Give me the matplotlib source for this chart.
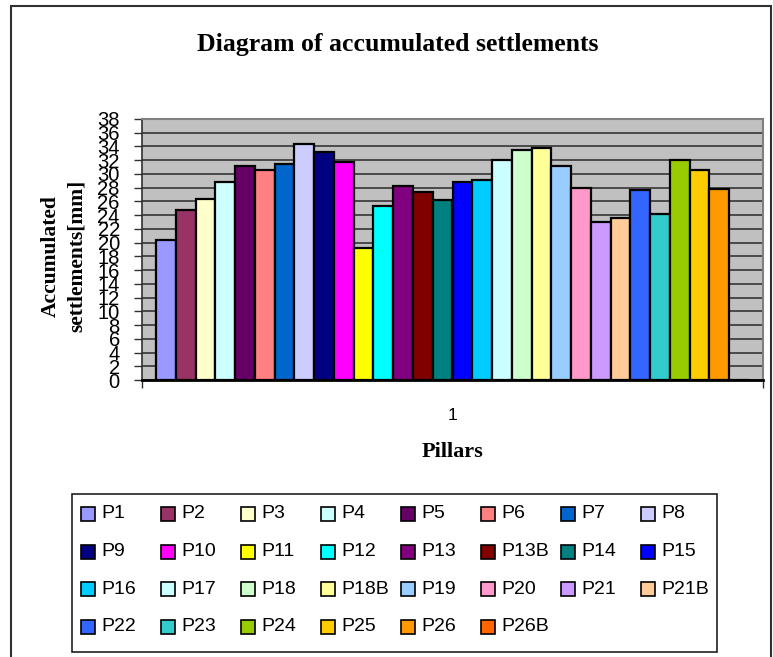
import matplotlib
matplotlib.use("Agg")
import matplotlib.pyplot as plt
from matplotlib.patches import Rectangle
import numpy as np


# data
pillars = ["P1", "P2", "P3", "P4", "P5", "P6", "P7", "P8",
           "P9", "P10", "P11", "P12", "P13", "P13B", "P14", "P15",
           "P16", "P17", "P18", "P18B", "P19", "P20", "P21", "P21B",
           "P22", "P23", "P24", "P25", "P26", "P26B"]
settlements = [20.4, 24.7, 26.4, 28.9, 31.1, 30.6, 31.4, 34.3,
               33.2, 31.7, 19.2, 25.3, 28.2, 27.4, 26.2, 28.8,
               29.1, 32.0, 33.5, 33.8, 31.2, 27.9, 23.0, 23.6,
               27.7, 24.2, 32.0, 30.6, 27.8, 0.0]
colors = ["#9999FF", "#993366", "#FFFFCC", "#CCFFFF", "#660066", "#FF8080", "#0066CC", "#CCCCFF",
          "#000080", "#FF00FF", "#FFFF00", "#00FFFF", "#800080", "#800000", "#008080", "#0000FF",
          "#00CCFF", "#CCFFFF", "#CCFFCC", "#FFFF99", "#99CCFF", "#FF99CC", "#CC99FF", "#FFCC99",
          "#3366FF", "#33CCCC", "#99CC00", "#FFCC00", "#FF9900", "#FF6600"]
yticks = list(range(0, 39, 2))
category = "1"

W, H = 773, 657
serif = "Liberation Serif"
sans = "Liberation Sans"

fig = plt.figure(figsize=(W / 100, H / 100), dpi=100)

# outer chart frame
fig.patches.append(Rectangle((11 / W, -0.01), (771 - 11) / W, 1.01 - 6 / H,
                             transform=fig.transFigure, fill=False,
                             edgecolor="#303030", lw=1.5))

# plot area
ax = fig.add_axes([142 / W, 1 - 380 / H, (763 - 142) / W, (380 - 119) / H])
ax.set_facecolor("#C0C0C0")

x = np.arange(len(pillars))
ax.bar(x, settlements, width=1.0, color=colors, edgecolor="black", linewidth=1.6, zorder=3)

gap = 0.707
ax.set_xlim(-0.5 - gap, len(pillars) - 0.5 + gap)
ax.set_ylim(0, 38)
ax.set_yticks(yticks)
ax.set_yticklabels([str(v) for v in yticks], fontfamily=sans, fontsize=14.5)
ax.tick_params(axis="y", direction="out", length=6, width=1, color="#303030", pad=10)

# category axis: ticks at the edges, the label in the middle
ax.set_xticks([-0.5 - gap, len(pillars) - 0.5 + gap])
ax.set_xticklabels(["", ""])
ax.set_xticks([(len(pillars) - 1) / 2], minor=True)
ax.set_xticklabels([category], minor=True, fontfamily=sans, fontsize=12.5)
ax.tick_params(axis="x", which="major", direction="out", length=6, width=1, color="#303030")
ax.tick_params(axis="x", which="minor", length=0, pad=20)

ax.yaxis.grid(True, color="#404040", lw=1.3, zorder=1)
ax.set_axisbelow(True)
ax.spines["bottom"].set_color("black")
ax.spines["bottom"].set_linewidth(2)
ax.spines["bottom"].set_zorder(4)
ax.spines["left"].set_color("#303030")
ax.spines["left"].set_linewidth(1.2)
for s in ["top", "right"]:
    ax.spines[s].set_color("#808080")
    ax.spines[s].set_linewidth(1.5)

# titles
fig.text(398 / W, 1 - 45 / H, "Diagram of accumulated settlements",
         ha="center", va="center", fontfamily=serif, fontweight="bold", fontsize=18.5)
fig.text(64 / W, 1 - 256 / H, "Accumulated\nsettlements[mm]", rotation=90,
         ha="center", va="center", multialignment="center", linespacing=1.4,
         fontfamily=serif, fontweight="bold", fontsize=15.5)
fig.text(452 / W, 1 - 452 / H, "Pillars", ha="center", va="center",
         fontfamily=serif, fontweight="bold", fontsize=16)

# legend box laid out like the spreadsheet legend (8 columns, row by row)
fig.patches.append(Rectangle((72 / W, 1 - 652 / H), (717 - 72) / W, (652 - 494) / H,
                             transform=fig.transFigure, facecolor="white",
                             edgecolor="#202020", lw=1.2))
for i, (name, c) in enumerate(zip(pillars, colors)):
    col, row = i % 8, i // 8
    cx = 81 + col * 80
    cy = 514 + row * 37.6
    fig.patches.append(Rectangle((cx / W, 1 - (cy + 7) / H), 14 / W, 14 / H,
                                 transform=fig.transFigure, facecolor=c,
                                 edgecolor="black", lw=1.2))
    fig.text((cx + 20) / W, 1 - cy / H, name, ha="left", va="center",
             fontfamily=sans, fontsize=14)

fig.savefig("out.png", dpi=100)
